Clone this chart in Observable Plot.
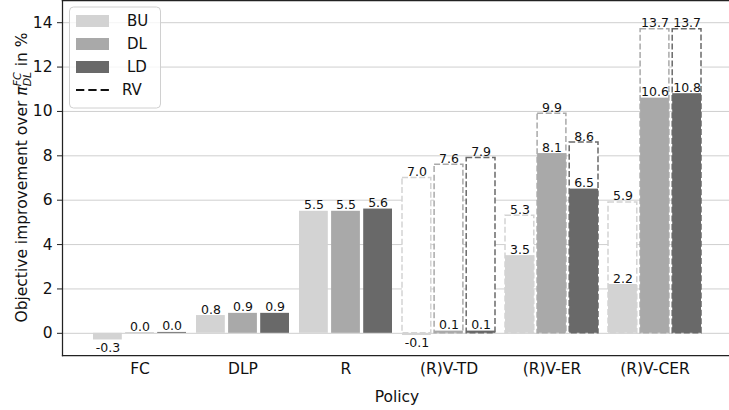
<!DOCTYPE html>
<html><head><meta charset="utf-8">
<script src="https://cdn.jsdelivr.net/npm/d3@7"></script>
<script src="https://cdn.jsdelivr.net/npm/@observablehq/plot@0.6"></script>
<style>body{margin:0;background:#fff}</style>
</head><body><div id="chart"></div>
<script>
const policies = ["FC", "DLP", "R", "(R)V-TD", "(R)V-ER", "(R)V-CER"];
const seriesNames = ["BU", "DL", "LD"];
const buValues = [-0.3, 0.8, 5.5, -0.1, 3.5, 2.2];
const dlValues = [0.02, 0.9, 5.5, 0.1, 8.1, 10.6];
const ldValues = [0.04, 0.9, 5.6, 0.1, 6.5, 10.8];
const rvPolicies = ["(R)V-TD", "(R)V-ER", "(R)V-CER"];
const rvBU = [7.0, 5.3, 5.9];
const rvDL = [7.6, 9.9, 13.7];
const rvLD = [7.9, 8.6, 13.7];
const yTicks = [0, 2, 4, 6, 8, 10, 12, 14];
const seriesColors = ["#d3d3d3", "#a9a9a9", "#696969"];
const legendLabels = ["BU", "DL", "LD", "RV"];

const valuesBySeries = [buValues, dlValues, ldValues];
const rvBySeries = [rvBU, rvDL, rvLD];
const bars = seriesNames.flatMap((s, k) => policies.map((p, i) => ({policy: p, series: s, k, value: valuesBySeries[k][i]})));
const rv = seriesNames.flatMap((s, k) => rvPolicies.map((p, i) => ({policy: p, series: s, k, value: rvBySeries[k][i]})));

const slot = 32.1;
const inset = k => ({insetLeft: k * slot, insetRight: (2 - k) * slot});
const dash = "6,2.6";

const marks = [
  Plot.gridY(yTicks, {stroke: "#cfcfcf", strokeOpacity: 1, strokeWidth: 1}),
  ...seriesNames.map((s, k) => Plot.barY(rv.filter(d => d.k === k), {
    x: "policy", y: "value", fill: "white", stroke: seriesColors[k],
    strokeWidth: 1.5, strokeDasharray: dash, ...inset(k)
  })),
  ...seriesNames.map((s, k) => Plot.barY(bars.filter(d => d.k === k), {
    x: "policy", y: "value", fill: seriesColors[k], ...inset(k)
  })),
  ...seriesNames.map((s, k) => Plot.text(bars.filter(d => d.k === k && d.value >= 0), {
    x: "policy", y: "value", text: d => d.value.toFixed(1), lineAnchor: "bottom",
    dy: -2, dx: (k - 1) * slot, fontSize: 12.5
  })),
  ...seriesNames.map((s, k) => Plot.text(bars.filter(d => d.k === k && d.value < 0), {
    x: "policy", y: "value", text: d => d.value.toFixed(1), lineAnchor: "top",
    dy: 3, dx: (k - 1) * slot, fontSize: 12.5
  })),
  ...seriesNames.map((s, k) => Plot.text(rv.filter(d => d.k === k), {
    x: "policy", y: "value", text: d => d.value.toFixed(1), lineAnchor: "bottom",
    dy: -2, dx: (k - 1) * slot, fontSize: 12.5
  })),
  Plot.frame({anchor: "left", stroke: "#222", strokeWidth: 1.25}),
  Plot.frame({anchor: "bottom", stroke: "#222", strokeWidth: 1.25}),
  Plot.frame({anchor: "top", stroke: "#222", strokeWidth: 1.5}),
  Plot.axisY(yTicks, {tickSize: 5, tickPadding: 5, label: null, stroke: "#222"}),
  Plot.axisX({tickSize: 0, tickPadding: 7, label: null})
];

const el = Plot.plot({
  width: 729, height: 410,
  marginLeft: 62, marginRight: 0, marginTop: 0, marginBottom: 55,
  style: {fontFamily: "DejaVu Sans", fontSize: "15.5px", color: "#111", background: "white"},
  x: {type: "band", domain: policies, range: [62, 732], paddingInner: 0.094, paddingOuter: 0.29},
  y: {domain: [-1, 15]},
  marks
});
document.getElementById("chart").appendChild(el);

const svg = d3.select(el);
svg.style("overflow", "hidden");

// y axis title with math
const yl = svg.append("text")
  .attr("transform", "translate(26.5,177.5) rotate(-90)")
  .attr("text-anchor", "middle").attr("fill", "#111")
  .style("font-size", "15.5px").style("font-family", "DejaVu Sans");
yl.append("tspan").text("Objective improvement over ");
yl.append("tspan").attr("font-style", "italic").text("π");
const sup = yl.append("tspan").attr("font-size", "11px").attr("font-style", "italic").attr("dy", -6).text("FC");
const supW = sup.node().getComputedTextLength();
const sub = yl.append("tspan").attr("font-size", "11px").attr("font-style", "italic").attr("dy", 10).attr("dx", -supW).text("DL");
const subW = sub.node().getComputedTextLength();
yl.append("tspan").attr("dy", -4).attr("dx", Math.max(0, subW - supW)).text(" in %");

// x axis title
svg.append("text").attr("x", 397).attr("y", 401.5).attr("text-anchor", "middle")
  .attr("fill", "#111").style("font-size", "15.5px").style("font-family", "DejaVu Sans").text("Policy");

// legend
const lg = svg.append("g").attr("text-anchor", "start").style("font-family", "DejaVu Sans").style("font-size", "15px");
lg.append("rect").attr("x", 69.5).attr("y", 7).attr("width", 91).attr("height", 101).attr("rx", 4)
  .attr("fill", "white").attr("fill-opacity", 0.8).attr("stroke", "#d0d0d0");
legendLabels.forEach((lab, i) => {
  const cy = 21 + i * 23;
  if (i < 3) {
    lg.append("rect").attr("x", 76).attr("y", cy - 6).attr("width", 33).attr("height", 12).attr("fill", seriesColors[i]);
    lg.append("text").attr("x", 127).attr("y", cy).attr("dy", "0.36em").attr("text-anchor", "start").attr("fill", "#111").text(lab);
  } else {
    lg.append("line").attr("x1", 76).attr("x2", 109).attr("y1", cy).attr("y2", cy)
      .attr("stroke", "#111").attr("stroke-width", 2).attr("stroke-dasharray", "8.3,4");
    lg.append("text").attr("x", 122).attr("y", cy).attr("dy", "0.36em").attr("text-anchor", "start").attr("fill", "#111").text(lab);
  }
});
</script>
</body></html>
